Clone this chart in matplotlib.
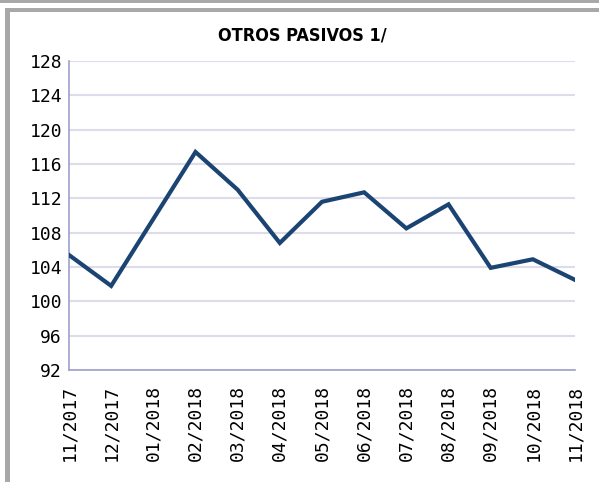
import matplotlib.pyplot as plt
from matplotlib.patches import Rectangle

# serie mensual
meses = ["11/2017", "12/2017", "01/2018", "02/2018", "03/2018", "04/2018",
         "05/2018", "06/2018", "07/2018", "08/2018", "09/2018", "10/2018",
         "11/2018"]
valores = [105.4, 101.8, 109.6, 117.4, 113.0, 106.8,
           111.6, 112.7, 108.5, 111.3, 103.9, 104.9, 102.5]
yticks = list(range(92, 129, 4))

fig = plt.figure(figsize=(5.99, 4.86), dpi=100)

# marco gris alrededor del grafico
fig.patches.append(Rectangle((0, 1 - 3 / 486), 1, 3 / 486, transform=fig.transFigure,
                             color="#a8a8a8", lw=0))
fig.patches.append(Rectangle((5 / 599, 1 - 12 / 486), 1, 4 / 486, transform=fig.transFigure,
                             color="#a8a8a8", lw=0))
fig.patches.append(Rectangle((5 / 599, 4 / 486), 5 / 599, 1 - 16 / 486, transform=fig.transFigure,
                             color="#a8a8a8", lw=0))

ax = fig.add_axes([69 / 599, 1 - 370 / 486, (575 - 69) / 599, (370 - 61) / 486])
x = list(range(len(meses)))
ax.plot(x, valores, color="#1b4473", lw=3, solid_joinstyle="miter", zorder=3)

ax.set_xlim(0, len(meses) - 1)
ax.set_ylim(92, 128)
ax.set_yticks(yticks)
ax.set_xticks(x)
ax.set_xticklabels(meses, rotation=90, family="DejaVu Sans Mono", fontsize=13)
ax.set_yticklabels([str(v) for v in yticks], family="DejaVu Sans Mono", fontsize=13)
ax.tick_params(axis="y", length=0, pad=5)
ax.tick_params(axis="x", length=0, pad=11)
ax.grid(axis="y", color="#dcdcea", lw=1.5)
ax.set_axisbelow(True)
for s in ["top", "right"]:
    ax.spines[s].set_visible(False)
ax.spines["left"].set_color("#a0a0cc")
ax.spines["bottom"].set_color("#a0a0cc")
ax.spines["left"].set_linewidth(1.2)
ax.spines["bottom"].set_linewidth(1.2)

fig.text(302 / 599, 1 - 36 / 486, "OTROS PASIVOS 1/", ha="center", va="center",
         fontsize=13, fontweight="heavy", family="DejaVu Sans", fontstretch="condensed")

fig.savefig("out.png", dpi=100)
